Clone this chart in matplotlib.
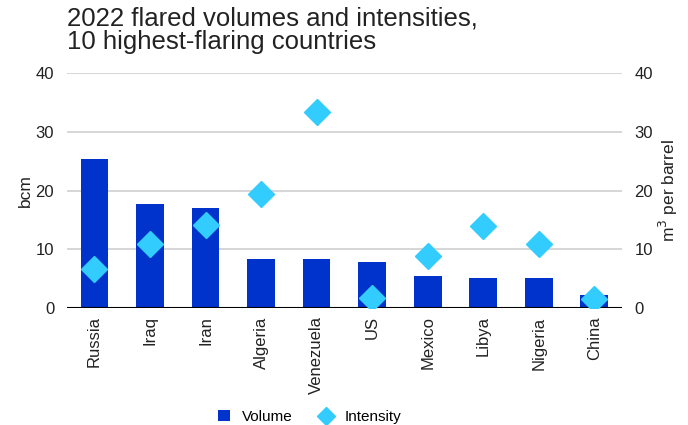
import matplotlib.pyplot as plt
import numpy as np

plt.rcParams['font.family'] = ['Liberation Sans', 'DejaVu Sans']

countries = ['Russia', 'Iraq', 'Iran', 'Algeria', 'Venezuela', 'US',
             'Mexico', 'Libya', 'Nigeria', 'China']
# flared volume, bcm
volume = [25.4, 17.7, 17.1, 8.4, 8.4, 7.8, 5.4, 5.2, 5.2, 2.3]
# flaring intensity, m3 per barrel
intensity = [6.6, 10.9, 14.2, 19.4, 33.4, 1.8, 8.9, 13.9, 10.9, 1.6]

bar_color = '#0033CC'
dot_color = '#33CCFF'
text_color = '#222222'

fig = plt.figure(figsize=(6.88, 4.25), dpi=100)
ax = fig.add_axes([0.097, 0.275, 0.807, 0.553])
ax2 = ax.twinx()

x = np.arange(len(countries))
ax.bar(x, volume, width=0.5, color=bar_color, label='Volume', zorder=2)
ax2.plot(x, intensity, linestyle='none', marker='D', markersize=13,
         color=dot_color, label='Intensity', zorder=3)

for a in (ax, ax2):
    a.set_ylim(0, 40)
    a.set_yticks([0, 10, 20, 30, 40])
    for s in a.spines.values():
        s.set_visible(False)
    a.tick_params(axis='y', length=0, labelsize=12, colors=text_color, pad=9)

ax.set_xlim(-0.5, 9.5)
ax.yaxis.grid(True, color='#d6d6d6', linewidth=1.4, zorder=0)
ax.set_axisbelow(True)
ax.axhline(0, color='black', linewidth=1.5, zorder=4)
ax.set_xticks(x)
ax.set_xticklabels(countries, rotation=90, fontsize=12, color=text_color)
ax.tick_params(axis='x', length=0, pad=6)

ax.set_ylabel('bcm', fontsize=12.5, color=text_color, labelpad=2)
ax2.set_ylabel('m$^3$ per barrel', fontsize=12.5, color=text_color, labelpad=3)

fig.text(0.097, 0.872, '2022 flared volumes and intensities,\n10 highest-flaring countries',
         fontsize=18.5, color=text_color, ha='left', va='bottom', linespacing=1.0)

h1, l1 = ax.get_legend_handles_labels()
h2, l2 = ax2.get_legend_handles_labels()
fig.legend(h1 + h2, l1 + l2, loc='lower center', bbox_to_anchor=(0.45, -0.03),
           ncol=2, frameon=False, fontsize=11, handlelength=0.8,
           columnspacing=1.8, handletextpad=0.8, markerscale=0.7)

fig.savefig('out.png', dpi=100)
